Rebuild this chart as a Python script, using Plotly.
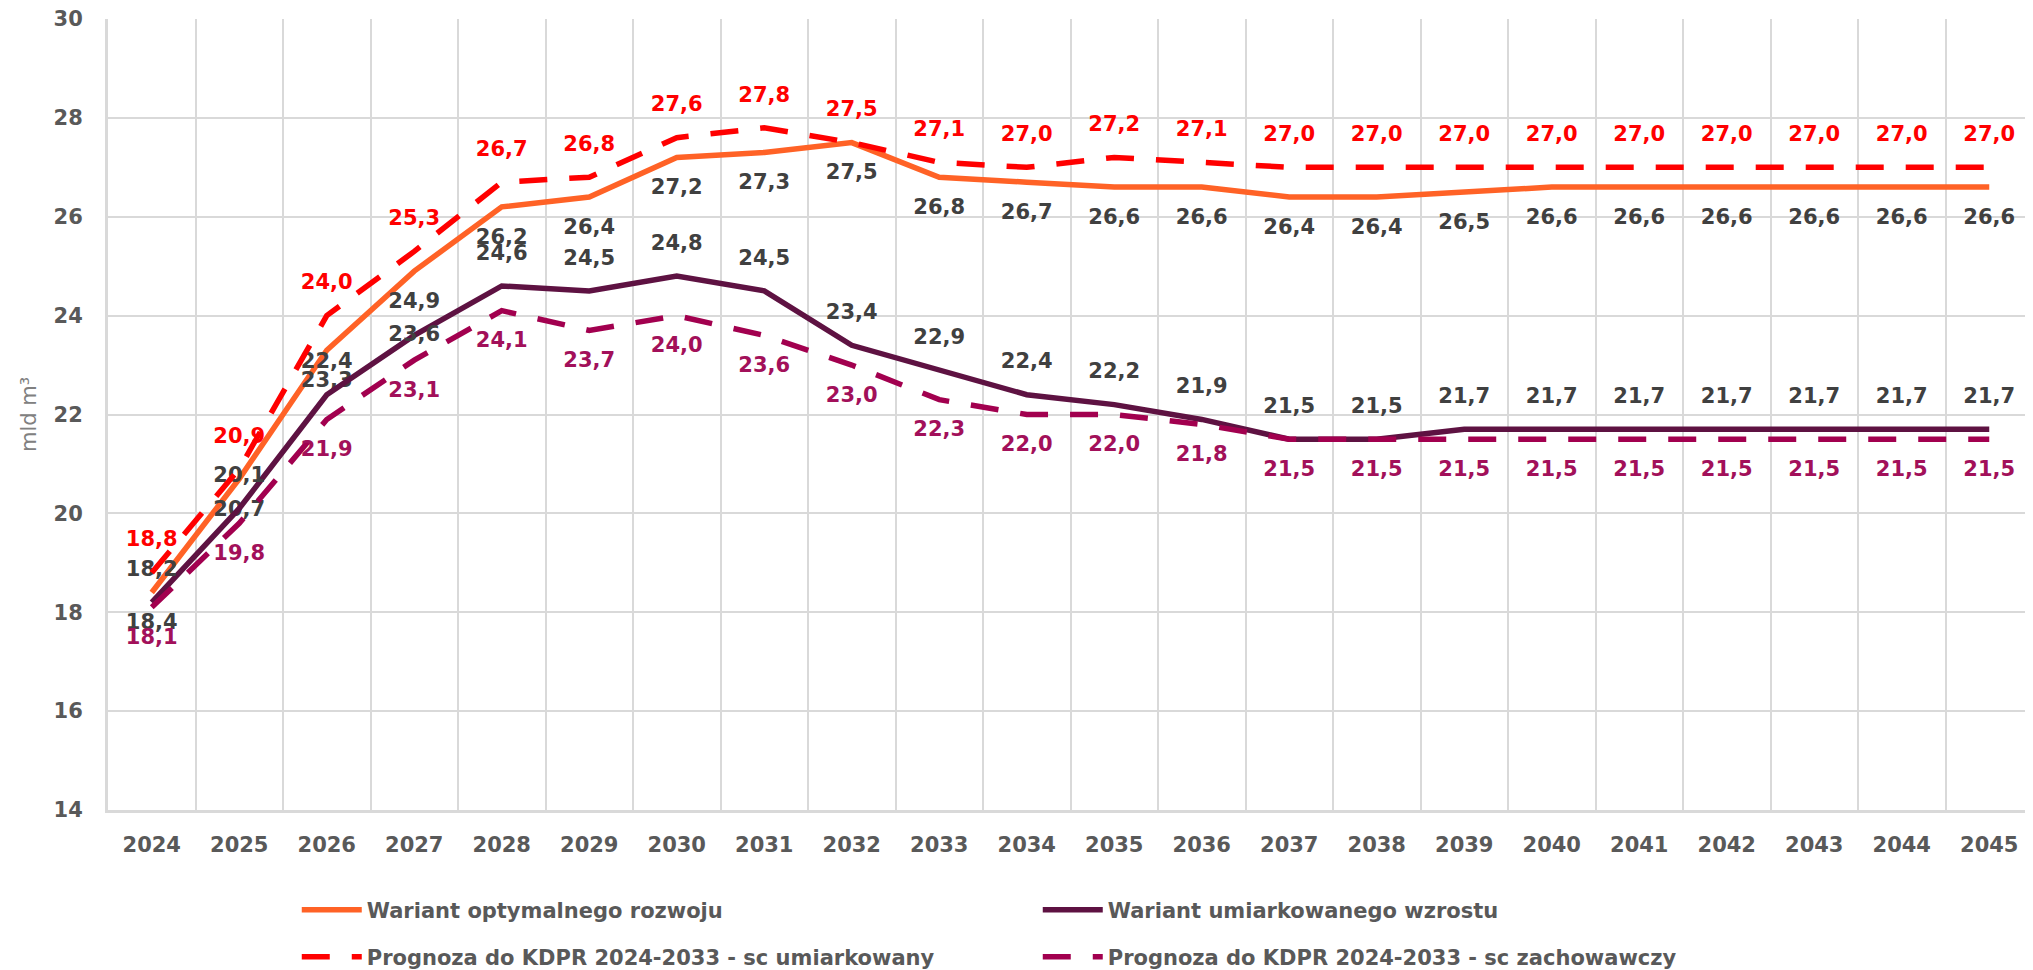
"""
Zapotrzebowanie na gaz - warianty rozwoju vs prognozy KDPR
"""
import plotly.graph_objects as go

years = list(range(2024, 2046))

optymalny = [18.4, 20.7, 23.3, 24.9, 26.2, 26.4, 27.2, 27.3, 27.5, 26.8, 26.7,
             26.6, 26.6, 26.4, 26.4, 26.5, 26.6, 26.6, 26.6, 26.6, 26.6, 26.6]
umiarkowany_wzrost = [18.2, 20.1, 22.4, 23.6, 24.6, 24.5, 24.8, 24.5, 23.4, 22.9, 22.4,
                      22.2, 21.9, 21.5, 21.5, 21.7, 21.7, 21.7, 21.7, 21.7, 21.7, 21.7]
kdpr_umiarkowany = [18.8, 20.9, 24.0, 25.3, 26.7, 26.8, 27.6, 27.8, 27.5, 27.1, 27.0,
                    27.2, 27.1, 27.0, 27.0, 27.0, 27.0, 27.0, 27.0, 27.0, 27.0, 27.0]
kdpr_zachowawczy = [18.1, 19.8, 21.9, 23.1, 24.1, 23.7, 24.0, 23.6, 23.0, 22.3, 22.0,
                    22.0, 21.8, 21.5, 21.5, 21.5, 21.5, 21.5, 21.5, 21.5, 21.5, 21.5]

series_names = [
    "Wariant optymalnego rozwoju",
    "Wariant umiarkowanego wzrostu",
    "Prognoza do KDPR 2024-2033 - sc umiarkowany",
    "Prognoza do KDPR 2024-2033 - sc zachowawczy",
]

FONT = "DejaVu Sans"
GRID = "#D9D9D9"
W, H = 2025, 962  # page body adds an 8px margin


def fmt(values):
    return [f"{v:.1f}".replace(".", ",") for v in values]


def add_series(fig, values, name, color, dash, text_pos, text_color, legend):
    fig.add_trace(go.Scatter(
        x=years,
        y=values,
        name=name,
        mode="lines+markers+text",
        line=dict(color=color, width=5.5, dash=dash),
        marker=dict(size=32, color="rgba(0,0,0,0)"),
        text=fmt(values),
        textposition=text_pos,
        textfont=dict(family=FONT, size=21, color=text_color, weight="bold"),
        legend=legend,
        cliponaxis=False,
    ))


# label of the 2027 point sits on the line in the original
purple_pos = ["top center"] * len(years)
purple_pos[3] = "middle center"

fig = go.Figure()
add_series(fig, optymalny, series_names[0], "#FF6226", "solid", "bottom center", "#404040", "legend")
add_series(fig, umiarkowany_wzrost, series_names[1], "#5E1242", "solid", purple_pos, "#404040", "legend")
add_series(fig, kdpr_umiarkowany, series_names[2], "#FF0000", "28px,22px", "top center", "#FF0000", "legend2")
add_series(fig, kdpr_zachowawczy, series_names[3], "#A2004F", "28px,22px", "bottom center", "#A2105A", "legend2")

legend_style = dict(
    orientation="h",
    xref="container", yref="container",
    x=0.1426, xanchor="left",
    yanchor="middle",
    entrywidth=666,
    font=dict(family=FONT, size=21, color="#595959", weight="bold"),
    bgcolor="rgba(0,0,0,0)",
    itemwidth=60,
)

fig.update_layout(
    width=W,
    height=H,
    margin=dict(l=100, r=0, t=11, b=160, autoexpand=False),
    plot_bgcolor="white",
    paper_bgcolor="white",
    font=dict(family=FONT, color="#595959"),
    showlegend=True,
    legend=dict(legend_style, y=60 / H),
    legend2=dict(legend_style, y=13 / H),
    xaxis=dict(
        range=[2023.5, 2045.5],
        tickmode="array",
        tickvals=years,
        ticktext=[str(y) for y in years],
        showgrid=False,
        minor=dict(tick0=2023.5, dtick=1, showgrid=True, gridcolor=GRID, gridwidth=2),
        showline=True, linecolor=GRID, linewidth=3,
        ticks="", ticklabelstandoff=14,
        tickfont=dict(family=FONT, size=21, color="#595959", weight="bold"),
        zeroline=False,
        automargin=False,
    ),
    yaxis=dict(
        range=[14, 30],
        dtick=2,
        showgrid=True, gridcolor=GRID, gridwidth=2,
        showline=True, linecolor=GRID, linewidth=3,
        ticks="", ticklabelstandoff=18,
        ticklabeloverflow="allow",
        tickfont=dict(family=FONT, size=21, color="#595959", weight="bold"),
        zeroline=False,
        automargin=False,
        title=dict(text="mld m³", standoff=12,
                   font=dict(family=FONT, size=21, color="#808080")),
    ),
)

fig.write_html("out.html")
